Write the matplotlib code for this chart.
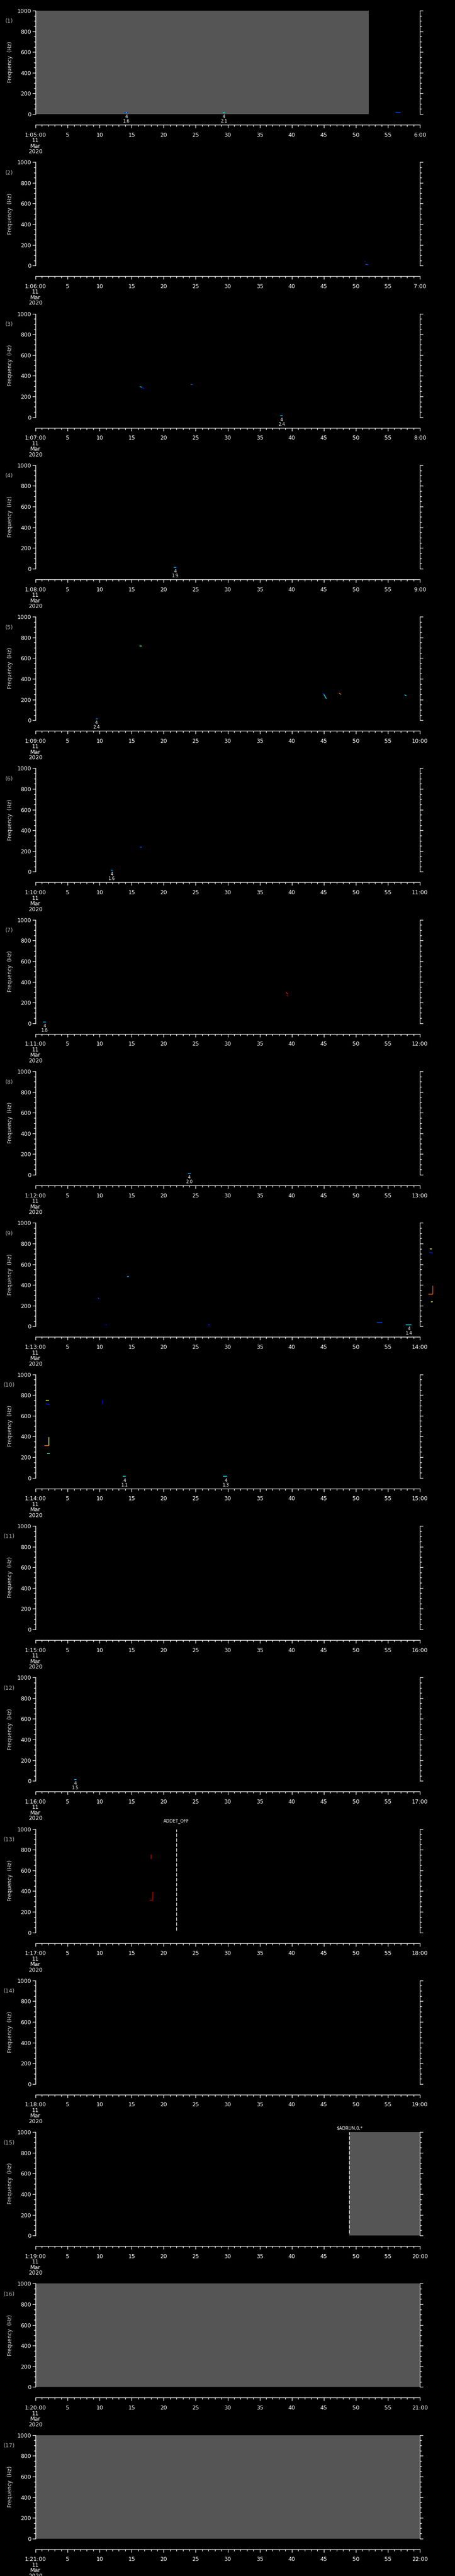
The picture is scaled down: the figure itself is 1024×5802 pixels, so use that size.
import matplotlib
matplotlib.use('Agg')
import matplotlib.pyplot as plt
from matplotlib.ticker import MultipleLocator, FixedLocator, FixedFormatter
import numpy as np

plt.rcParams['font.family'] = ['DejaVu Sans']

# ---------------- data ----------------
N_PANELS = 17
START_MIN = [5 + i for i in range(N_PANELS)]        # 1:05:00 ... 1:21:00
DATE_TEXT = "11\nMar\n2020"

# grey (no-data / mode) spans
GREY_PANEL = [1, 15, 16, 17]
GREY_T0 = [0.0, 49.0, 0.0, 0.0]
GREY_T1 = [52.0, 60.0, 60.0, 60.0]

# spectral spots: panel, t0, t1 (s), f0, f1 (Hz), intensity level (0..1, jet)
SPOT_PANEL = [1, 1, 1, 1,
              2, 2,
              3, 3, 3, 3,
              4,
              5, 5, 5, 5, 5, 5,
              6, 6,
              7, 7, 7,
              8,
              9, 9, 9, 9, 9, 9, 9, 9, 9, 9, 9,
              10, 10, 10, 10, 10, 10, 10, 10,
              12,
              13, 13, 13, 13]
SPOT_T0 = [13.9, 14.1, 29.2, 56.2,
           51.4, 51.5,
           16.3, 16.6, 24.2, 38.2,
           21.6,
           9.4, 16.2, 44.8, 45.0, 47.4, 57.6,
           11.7, 16.3,
           1.2, 39.1, 39.2,
           23.8,
           9.77, 14.3, 10.9, 26.9, 53.3, 57.8, 61.5, 61.5, 62.0, 61.3, 61.7,
           1.6, 1.6, 2.1, 1.4, 1.8, 10.4, 13.6, 29.3,
           6.0,
           18.0, 18.2, 18.3, 17.8]
SPOT_T1 = [14.5, 14.3, 29.6, 57.0,
           51.5, 51.9,
           16.6, 16.95, 24.5, 38.6,
           22.0,
           9.7, 16.6, 45.0, 45.4, 47.7, 57.9,
           12.1, 16.6,
           1.6, 39.4, 39.4,
           24.2,
           9.9, 14.6, 11.1, 27.2, 54.1, 58.7, 61.9, 62.0, 62.0, 62.0, 62.0,
           2.1, 2.2, 2.1, 2.1, 2.2, 10.5, 14.1, 29.9,
           6.4,
           18.0, 18.2, 18.3, 18.3]
SPOT_F0 = [14, 14, 14, 17,
           40, 14,
           294, 288, 314, 14,
           14,
           14, 716, 258, 250, 262, 246,
           14, 240,
           14, 300, 270,
           14,
           276, 481, 14, 14, 36, 14, 749, 713, 394, 312, 236,
           749, 716, 394, 312, 236, 752, 14, 14,
           14,
           752, 709, 394, 311]
SPOT_F1 = [14, 14, 14, 13,
           40, 10,
           290, 275, 314, 14,
           14,
           14, 716, 258, 208, 248, 236,
           14, 240,
           14, 280, 260,
           14,
           266, 481, 14, 14, 36, 14, 749, 710, 312, 312, 236,
           749, 708, 312, 312, 236, 709, 14, 14,
           14,
           709, 709, 310, 311]
SPOT_LEVEL = [0.15, 0.35, 0.35, 0.2,
              0.2, 0.2,
              0.35, 0.15, 0.2, 0.3,
              0.3,
              0.25, 0.45, 0.15, 0.35, 0.8, 0.35,
              0.3, 0.2,
              0.3, 0.9, 0.95,
              0.3,
              0.2, 0.3, 0.1, 0.15, 0.2, 0.35, 0.6, 0.15, 0.85, 0.8, 0.6,
              0.6, 0.15, 0.6, 0.8, 0.45, 0.1, 0.35, 0.35,
              0.3,
              0.95, 0.3, 0.95, 0.95]

# small annotations below the spectrogram: panel, time, upper text, lower text
ANN_PANEL = [1, 1, 3, 4, 5, 6, 7, 8, 9, 10, 10, 12]
ANN_T = [14.2, 29.4, 38.4, 21.8, 9.5, 11.9, 1.4, 24.0, 58.3, 13.9, 29.7, 6.2]
ANN_TOP = ['4'] * 12
ANN_BOT = ['1.6', '2.1', '2.4', '1.9', '2.4', '1.6', '1.8', '2.0', '1.4', '1.1', '1.3', '1.5']

# command markers (dashed vertical lines)
CMD_PANEL = [13, 15]
CMD_T = [22.0, 49.0]
CMD_TEXT = ['ADDET_OFF', '$ADRUN,0,*']
CMD_TEXT_Y = [6.5, 15.0]  # px below panel top

# ---------------- layout ----------------
W, H = 1024, 5802
fig = plt.figure(figsize=(W / 100, H / 100), dpi=100, facecolor='black')
pitch = H / N_PANELS
X0, X1 = 80, 945
TOP, BOT = 24, 257
TAX = 281

cmap = plt.get_cmap('jet')
WHITE = 'white'

def fx(px):
    return px / W

def fy(py):
    return 1 - py / H

for i in range(N_PANELS):
    p = i + 1
    o = i * pitch
    ax = fig.add_axes([fx(X0), fy(o + BOT), fx(X1 - X0), (BOT - TOP) / H])
    ax.set_facecolor('black')
    ax.set_xlim(0, 60)
    ax.set_ylim(0, 1000)
    for s in ['top', 'bottom']:
        ax.spines[s].set_visible(False)
    for s in ['left', 'right']:
        ax.spines[s].set_color(WHITE)
        ax.spines[s].set_linewidth(1.0)
    ax.set_xticks([])
    ax.yaxis.set_major_locator(MultipleLocator(200))
    ax.yaxis.set_minor_locator(MultipleLocator(50))
    ax.tick_params(axis='y', which='both', direction='out', colors=WHITE,
                   left=True, right=True, labelleft=True, labelright=False,
                   width=1.0, labelsize=9, pad=2)
    ax.tick_params(axis='y', which='major', length=5)
    ax.tick_params(axis='y', which='minor', length=3)

    # grey spans
    for gp, g0, g1 in zip(GREY_PANEL, GREY_T0, GREY_T1):
        if gp == p:
            ax.axvspan(g0, g1, color='#555555', lw=0, zorder=0.5)

    # spots
    for sp, t0, t1, f0, f1, lv in zip(SPOT_PANEL, SPOT_T0, SPOT_T1, SPOT_F0, SPOT_F1, SPOT_LEVEL):
        if sp == p:
            ax.plot([t0, t1], [f0, f1], color=cmap(lv), lw=1.2,
                    solid_capstyle='butt', clip_on=False, zorder=3)

    # annotations
    for ap, at, a1, a2 in zip(ANN_PANEL, ANN_T, ANN_TOP, ANN_BOT):
        if ap == p:
            xx = X0 + at / 60 * (X1 - X0)
            fig.text(fx(xx), fy(o + 263), a1, color=WHITE, fontsize=7,
                     ha='center', va='center')
            fig.text(fx(xx), fy(o + 273), a2, color=WHITE, fontsize=7,
                     ha='center', va='center')

    # command lines
    for cp, ct, ctext, cy in zip(CMD_PANEL, CMD_T, CMD_TEXT, CMD_TEXT_Y):
        if cp == p:
            ax.axvline(ct, ymin=0.02, ymax=1.0, color=WHITE, lw=1.0,
                       linestyle=(0, (5.5, 2.5)), zorder=4)
            xx = X0 + ct / 60 * (X1 - X0)
            fig.text(fx(xx), fy(o + cy), ctext, color=WHITE, fontsize=7,
                     ha='center', va='center')

    # labels
    fig.text(fx(21), fy(o + 48), '(%d)' % p, color='#b0b0b0', fontsize=9,
             ha='center', va='center')
    fig.text(fx(23), fy(o + 140), 'Frequency  (Hz)', color='#e0e0e0',
             fontsize=8.5, rotation=90, ha='center', va='center')

    # time axis
    tax = fig.add_axes([fx(X0), fy(o + TAX), fx(X1 - X0), 0.5 / H])
    tax.patch.set_visible(False)
    for s in ['top', 'left', 'right']:
        tax.spines[s].set_visible(False)
    tax.spines['bottom'].set_color(WHITE)
    tax.spines['bottom'].set_linewidth(1.0)
    tax.set_xlim(0, 60)
    tax.set_yticks([])
    ticks = list(range(0, 61, 5))
    m = START_MIN[i]
    labels = ['1:%02d:00\n%s' % (m, DATE_TEXT)] + [str(t) for t in ticks[1:-1]] + ['%d:00' % (m + 1)]
    tax.xaxis.set_major_locator(FixedLocator(ticks))
    tax.xaxis.set_major_formatter(FixedFormatter(labels))
    tax.xaxis.set_minor_locator(MultipleLocator(1))
    tax.tick_params(axis='x', which='both', direction='out', colors=WHITE,
                    width=1.0, labelsize=9, pad=7)
    tax.tick_params(axis='x', which='major', length=5)
    tax.tick_params(axis='x', which='minor', length=3)
    for lab in tax.get_xticklabels():
        lab.set_linespacing(0.95)
        lab.set_verticalalignment('top')

fig.savefig('out.png', dpi=100, facecolor='black')
